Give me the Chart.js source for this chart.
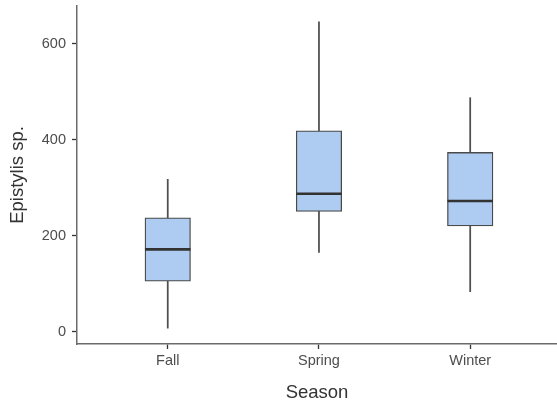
<!DOCTYPE html>
<html>
<head>
<meta charset="utf-8">
<script src="https://cdn.jsdelivr.net/npm/chart.js@4/dist/chart.umd.min.js"></script>
<style>
  html, body { margin: 0; padding: 0; background: #ffffff; }
  #wrap { width: 557px; height: 409px; }
</style>
</head>
<body>
<div id="wrap"><canvas id="c" width="557" height="409"></canvas></div>
<script>
// Seasonal counts of Epistylis sp. summarised as box-plot statistics
const seasons = ['Fall', 'Spring', 'Winter'];
const positions = [1, 2, 3];
const whiskerLow = [8, 166, 84];
const quartile1 = [106, 251, 221];
const medians = [172, 288, 273];
const quartile3 = [238, 419, 374];
const whiskerHigh = [318, 646, 488];
const yTicks = [0, 200, 400, 600];

const boxFill = '#aecbf2';
const boxLine = '#4a4a4a';
const textGrey = '#4d4d4d';
const font = "'Liberation Sans', Arial, sans-serif";

const whiskerData = positions.map((p, i) => ({ x: p, y: [whiskerLow[i], whiskerHigh[i]] }));
const boxData = positions.map((p, i) => ({ x: p, y: [quartile1[i], quartile3[i]] }));
const medianData = positions.map((p, i) => ({ x: p, y: medians[i] }));

// keep the panel edges where the axis boxes put them
function noEdgePadding(scale) {
  scale.paddingTop = 0;
  scale.paddingBottom = 0;
  scale.paddingLeft = 0;
  scale.paddingRight = 0;
}

new Chart(document.getElementById('c'), {
  type: 'bar',
  data: {
    datasets: [
      {
        type: 'scatter',
        label: 'median',
        data: medianData,
        pointStyle: 'line',
        pointRadius: 22.75,
        pointHoverRadius: 22.75,
        borderColor: '#333333',
        borderWidth: 2.6,
        order: 0
      },
      {
        label: 'box',
        data: boxData,
        backgroundColor: boxFill,
        borderColor: boxLine,
        borderWidth: 1.3,
        borderSkipped: false,
        barThickness: 45.5,
        grouped: false,
        order: 1
      },
      {
        label: 'whisker',
        data: whiskerData,
        backgroundColor: '#4f4f4f',
        borderWidth: 0,
        barThickness: 1.1,
        grouped: false,
        order: 2
      }
    ]
  },
  options: {
    responsive: false,
    animation: false,
    events: [],
    layout: { autoPadding: false, padding: { top: 6, right: 0, bottom: 0, left: 0 } },
    plugins: { legend: { display: false }, tooltip: { enabled: false } },
    scales: {
      x: {
        type: 'linear',
        min: 0.4,
        max: 3.574,
        offset: false,
        afterBuildTicks: (scale) => { scale.ticks = positions.map(v => ({ value: v })); },
        afterFit: (scale) => { scale.height = 65; noEdgePadding(scale); },
        ticks: {
          callback: (v) => seasons[positions.indexOf(v)] ?? '',
          color: textGrey,
          font: { family: font, size: 14.5 },
          padding: 3,
          autoSkip: false,
          maxRotation: 0
        },
        grid: { offset: false, drawOnChartArea: false, drawTicks: true, tickLength: 5, tickColor: '#333333', tickWidth: 1.3 },
        border: { display: true, color: '#6b6b6b', width: 1.5 },
        title: {
          display: true,
          text: 'Season',
          color: '#333333',
          font: { family: font, size: 18.5 },
          padding: { top: 0, bottom: 5 }
        }
      },
      y: {
        type: 'linear',
        min: -25,
        max: 679,
        afterBuildTicks: (scale) => { scale.ticks = yTicks.map(v => ({ value: v })); },
        afterFit: (scale) => { scale.width = 77; noEdgePadding(scale); },
        ticks: {
          color: textGrey,
          font: { family: font, size: 14.5 },
          padding: 6
        },
        grid: { offset: false, drawOnChartArea: false, drawTicks: true, tickLength: 5, tickColor: '#333333', tickWidth: 1.3 },
        border: { display: true, color: '#6b6b6b', width: 1.5 },
        title: {
          display: true,
          text: 'Epistylis sp.',
          color: '#333333',
          font: { family: font, size: 18.5 },
          padding: { top: 7, bottom: 0 }
        }
      }
    }
  }
});
</script>
</body>
</html>
